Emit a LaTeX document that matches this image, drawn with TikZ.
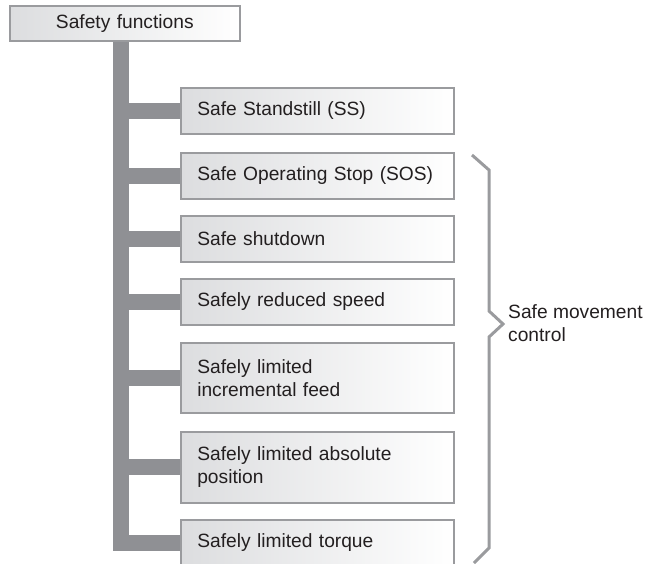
\documentclass[tikz,border=0pt]{standalone}
\usepackage{fontspec}
\setmainfont{Liberation Sans}
\usetikzlibrary{positioning, backgrounds}
\definecolor{trunkgray}{HTML}{8F9094}
\definecolor{framegray}{HTML}{9A9B9E}
\definecolor{shadegray}{HTML}{DCDDDF}
\definecolor{textdark}{HTML}{231F20}

\begin{document}
\begin{tikzpicture}[x=1pt, y=-1pt,
    fnbox/.style={draw=framegray, line width=1.6pt,
        left color=shadegray, right color=white,
        text=textdark, font=\fontsize{19.2}{23}\selectfont,
        anchor=north west, inner xsep=16.5pt, inner ysep=0pt,
        text width=240pt, align=left, minimum height=46pt},
    bar/.style={draw=trunkgray, line width=16pt},
    brace/.style={draw=framegray, line width=3pt}]
% Page frame
\clip (0,0) rectangle (658,563);
% Root box
\node[fnbox, text width=197pt, align=center, minimum height=35pt]
    (sf) at (9,5) {Safety functions};
\coordinate (tk) at (121,0);
% Function boxes
\node[fnbox] (ss)     at (180,87)  {Safe Standstill (SS)};
\node[fnbox] (sos)    at (180,152) {Safe Operating Stop (SOS)};
\node[fnbox] (shut)   at (180,215) {Safe shutdown};
\node[fnbox] (speed)  at (180,278) {Safely reduced speed};
\node[fnbox, minimum height=70pt]
    (feed)   at (180,342) {Safely limited\\incremental feed};
\node[fnbox, minimum height=71pt]
    (pos)    at (180,431) {Safely limited absolute\\position};
\node[fnbox] (torque) at (180,519) {Safely limited torque};
% Trunk and branches
\begin{scope}[on background layer]
\foreach \b in {ss,sos,shut,speed,feed,pos,torque}{
    \draw[bar] (sf.south -| tk) |- (\b.west);
}
\end{scope}
% Brace for movement control
\draw[brace] (472,155) -- (489,170) -- (489,311) -- (503,324)
    -- (489,337) -- (489,548) -- (474,563);
\node[text=textdark, font=\fontsize{19.2}{23}\selectfont,
    align=left, anchor=west, inner sep=0pt]
    (smc) at (508,323) {Safe movement\\control};
\end{tikzpicture}
\end{document}
